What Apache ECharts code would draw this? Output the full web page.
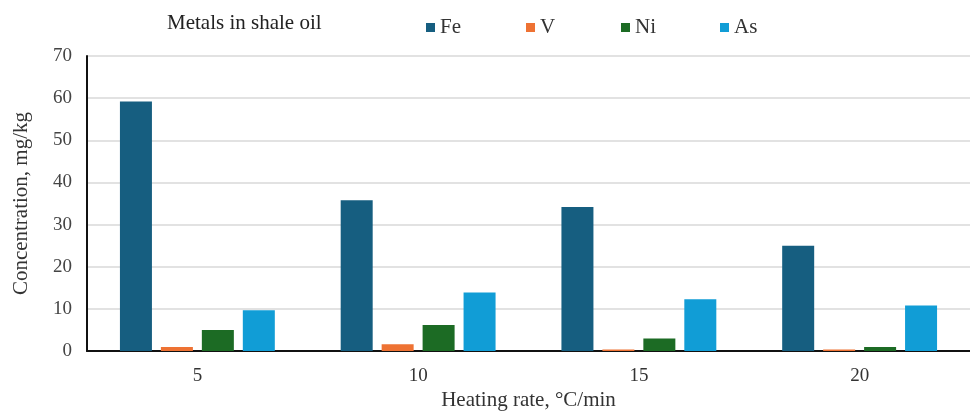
<!DOCTYPE html>
<html><head><meta charset="utf-8">
<script src="https://cdn.jsdelivr.net/npm/echarts@6/dist/echarts.min.js"></script>
<style>html,body{margin:0;padding:0;background:#fff}#c{width:970px;height:416px}</style>
</head><body><div id="c"></div>
<script>
const categories = ['5', '10', '15', '20'];
const seriesNames = ['Fe', 'V', 'Ni', 'As'];
const fe = [59.2, 35.8, 34.2, 25.0];
const v = [1.0, 1.6, 0.4, 0.4];
const ni = [5.0, 6.2, 3.0, 1.0];
const as = [9.7, 13.9, 12.3, 10.8];
const yTicks = [0, 10, 20, 30, 40, 50, 60, 70];
const colors = ['#165E80', '#EE7233', '#1C6B24', '#119DD6'];
const values = [fe, v, ni, as];
const legendLeft = [421, 521, 616, 715];
const font = '"Liberation Serif", "Times New Roman", serif';

const chart = echarts.init(document.getElementById('c'));
chart.setOption({
  animation: false,
  textStyle: { fontFamily: font },
  grid: { left: 87, right: -9, top: 56, bottom: 64, containLabel: false },
  legend: seriesNames.map((n, i) => ({
    data: [n], left: legendLeft[i], top: 12, itemWidth: 9, itemHeight: 9,
    icon: 'rect',
    textStyle: { fontFamily: font, fontSize: 21, color: '#333' }
  })),
  graphic: [{
    type: 'text', left: 167, top: 13,
    style: { text: 'Metals in shale oil', font: '21px ' + font, fill: '#222' }
  }],
  xAxis: {
    type: 'category', data: categories,
    name: 'Heating rate, \u00B0C/min', nameLocation: 'middle', nameGap: 36,
    nameTextStyle: { fontFamily: font, fontSize: 21, color: '#333' },
    axisLine: { lineStyle: { color: '#111', width: 2 } },
    axisTick: { show: false },
    axisLabel: { fontFamily: font, fontSize: 19, color: '#333', margin: 15 }
  },
  yAxis: {
    type: 'value', min: 0, max: 70, interval: 10,
    name: 'Concentration, mg/kg', nameLocation: 'middle', nameGap: 55, nameRotate: 90,
    nameTextStyle: { fontFamily: font, fontSize: 21, color: '#333' },
    axisLine: { show: true, lineStyle: { color: '#111', width: 2 } },
    axisTick: { show: false },
    axisLabel: { fontFamily: font, fontSize: 19, color: '#444', margin: 15,
      formatter: (val) => yTicks.includes(val) ? String(val) : '' },
    splitLine: { lineStyle: { color: '#d9d9d9', width: 1.5 } }
  },
  series: seriesNames.map((n, i) => ({
    name: n, type: 'bar', data: values[i], barWidth: 32, barGap: '28%',
    itemStyle: { color: colors[i] }
  }))
});
</script></body></html>
